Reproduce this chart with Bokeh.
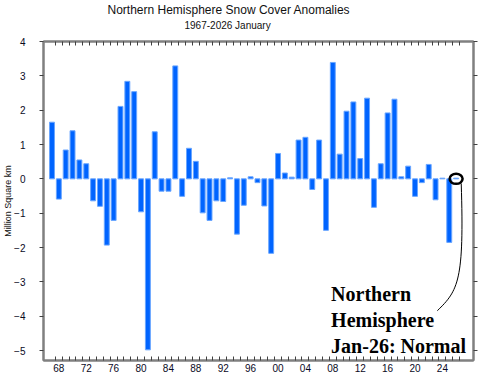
from bokeh.plotting import figure
from bokeh.models import LinearAxis, FixedTicker, Range1d, Title, ColumnDataSource
from bokeh.core.properties import value
from bokeh.embed import file_html
from bokeh.resources import INLINE

years = list(range(1967, 2027))
anomalies = [1.65, -0.59, 0.84, 1.40, 0.55, 0.44, -0.64, -0.80, -1.93, -1.21,
             2.11, 2.84, 2.54, -0.96, -4.98, 1.37, -0.36, -0.36, 3.29, -0.51,
             0.89, 0.51, -0.99, -1.21, -0.64, -0.66, 0.03, -1.61, -0.77, 0.06,
             -0.11, -0.79, -2.17, 0.74, 0.17, 0.05, 1.13, 1.21, -0.31, 1.13,
             -1.50, 3.39, 0.72, 1.97, 2.24, 0.59, 2.35, -0.83, 0.44, 1.92,
             2.32, 0.06, 0.37, -0.51, -0.11, 0.42, -0.61, 0.02, -1.85, 0.02]
label_years = list(range(1968, 2025, 4))
x_labels = ["%02d" % (y % 100) for y in label_years]
y_ticks = list(range(-5, 5))

title_text = "Northern Hemisphere Snow Cover Anomalies"
subtitle_text = "1967-2026 January"
y_label = "Million Square km"
note_text = "Northern\nHemisphere\nJan-26: Normal"

FRAME = "#808080"
TICK = "#404040"
TXT = "#0a0a1e"

p = figure(width=483, height=376, output_backend="svg", toolbar_location=None,
           x_range=Range1d(1965.76, 2028.54), y_range=Range1d(-5.29, 4.0),
           min_border_left=42, min_border_right=10, min_border_top=41, min_border_bottom=16,
           x_axis_location=None, y_axis_location=None, title=None)
p.xgrid.visible = False
p.ygrid.visible = False
p.outline_line_color = FRAME
p.outline_line_width = 2
p.background_fill_color = "white"
p.border_fill_color = "white"

src = ColumnDataSource(dict(x=years, top=anomalies))
p.vbar(x="x", top="top", bottom=0, width=0.72, source=src,
       fill_color="#0064FF", line_color="#6aa6ff", line_width=1)

minor = [y + 0.5 for y in years]

def x_axis(labels):
    ax = LinearAxis(ticker=FixedTicker(ticks=label_years, minor_ticks=minor))
    ax.major_tick_line_color = None
    ax.major_tick_in = 0
    ax.major_tick_out = 0
    ax.minor_tick_in = 4
    ax.minor_tick_out = 0
    ax.minor_tick_line_color = TICK
    ax.axis_line_color = FRAME
    ax.axis_line_width = 2
    if labels:
        ax.major_label_overrides = {y: s for y, s in zip(label_years, x_labels)}
        ax.major_label_text_font = "Liberation Sans"
        ax.major_label_text_font_size = "10px"
        ax.major_label_text_color = TXT
        ax.major_label_standoff = 3
    else:
        ax.major_label_text_font_size = "1px"
        ax.major_label_text_color = None
        ax.major_label_standoff = 0
    return ax

p.add_layout(x_axis(True), "below")
p.add_layout(x_axis(False), "above")

def y_axis(labels):
    ax = LinearAxis(ticker=FixedTicker(ticks=y_ticks, minor_ticks=[]))
    ax.major_tick_in = 0
    ax.major_tick_out = 4
    ax.major_tick_line_color = TICK
    ax.minor_tick_line_color = None
    ax.axis_line_color = FRAME
    ax.axis_line_width = 2
    if labels:
        ax.major_label_text_font = "Liberation Sans"
        ax.major_label_text_font_size = "10px"
        ax.major_label_text_color = TXT
        ax.major_label_standoff = 14
        ax.axis_label = y_label
        ax.axis_label_text_font = "Liberation Sans"
        ax.axis_label_text_font_size = "9px"
        ax.axis_label_text_font_style = "normal"
        ax.axis_label_text_color = "#111111"
        ax.axis_label_standoff = -2
    else:
        ax.major_label_text_font_size = "1px"
        ax.major_label_text_color = None
        ax.major_label_standoff = 0
    return ax

p.add_layout(y_axis(True), "left")
p.add_layout(y_axis(False), "right")

sub = Title(text=subtitle_text, align="left", offset=141, text_font="Liberation Sans",
            text_font_size="10px", text_font_style="normal", text_color="#111111", standoff=22)
p.add_layout(sub, "above")
main = Title(text=title_text, align="left", offset=64, text_font="Liberation Sans",
             text_font_size="12px", text_font_style="normal", text_color="#111111", standoff=-21)
p.add_layout(main, "above")

# annotation
p.ellipse(x=[years[-1]], y=[0.0], width=13, height=10, width_units="screen",
          height_units="screen", fill_color=None, line_color="black", line_width=2.5)
p.bezier(x0=[2026.75], y0=[-0.14], x1=[2023.26], y1=[-3.84],
         cx0=[2027.19], cy0=[-2.96], cx1=[2026.32], cy1=[-3.25],
         line_color="black", line_width=1)
p.text(x=[2007.75], y=[-3.02], text=[note_text], text_font=value("Liberation Serif"),
       text_font_style="bold", text_font_size="20px", text_line_height=1.2,
       text_baseline="top", text_align="left", text_color="black")

open("out.html", "w").write(file_html(p, INLINE))
